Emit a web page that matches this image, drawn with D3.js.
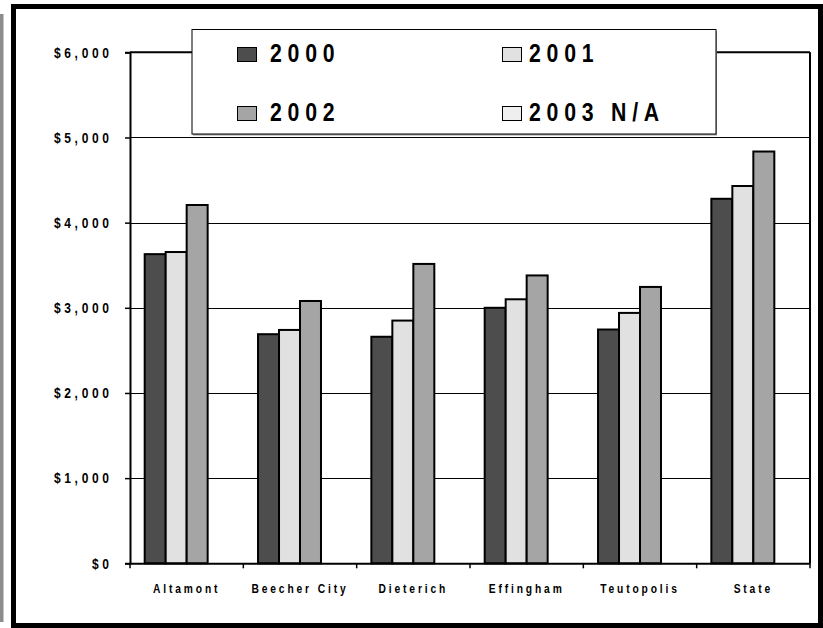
<!DOCTYPE html>
<html><head><meta charset="utf-8">
<script src="https://cdn.jsdelivr.net/npm/d3@7"></script>
<style>
html,body{margin:0;padding:0;background:#fff;}
svg{display:block;}
text{font-family:'Liberation Sans',Arial,sans-serif;font-weight:bold;fill:#000;}
</style></head>
<body>
<svg id="chart" width="823" height="628"></svg>
<script>
const categories = ["Altamont","Beecher City","Dieterich","Effingham","Teutopolis","State"];
const seriesNames = ["2000","2001","2002","2003 N/A"];
const v2000 = [3630, 2690, 2660, 3000, 2745, 4280];
const v2001 = [3655, 2740, 2850, 3100, 2940, 4430];
const v2002 = [4207, 3080, 3515, 3380, 3245, 4835];
const v2003 = [null, null, null, null, null, null];
const yTicks = [0, 1000, 2000, 3000, 4000, 5000, 6000];
const colors = ["#4d4d4d", "#e1e1e1", "#a5a5a5", "#efefef"];

const seriesVals = [v2000, v2001, v2002, v2003];
const svg = d3.select("#chart");

// left gray strip and outer frame
svg.append("rect").attr("x",0).attr("y",14).attr("width",3.5).attr("height",608).attr("fill","#8c8c8c");
svg.append("rect").attr("x",13.5).attr("y",6.5).attr("width",807).attr("height",619)
  .attr("fill","#fff").attr("stroke","#000").attr("stroke-width",5);

const L=130, R=810, T=52.3, B=563.3;
const x = d3.scaleBand().domain(categories).range([L,R]).padding(0);
const xs = d3.scaleBand().domain(seriesNames).range([0,x.bandwidth()]).paddingInner(0).paddingOuter(0.7);
const y = d3.scaleLinear().domain([0,6000]).range([B,T]);

// gridlines
svg.append("g").selectAll("line").data(yTicks.filter(d=>d>0 && d<6000)).join("line")
  .attr("x1",L).attr("x2",R).attr("y1",d=>Math.round(y(d))+0.5).attr("y2",d=>Math.round(y(d))+0.5)
  .attr("stroke","#000").attr("stroke-width",1);

// bars
const data = [];
categories.forEach((c,i)=>seriesNames.forEach((s,j)=>{ if(seriesVals[j][i]!=null) data.push({c,s,v:seriesVals[j][i],j}); }));
svg.append("g").selectAll("rect").data(data).join("rect")
  .attr("x",d=>x(d.c)+xs(d.s)).attr("width",xs.bandwidth())
  .attr("y",d=>y(d.v)).attr("height",d=>y(0)-y(d.v))
  .attr("fill",d=>colors[d.j]).attr("stroke","#000").attr("stroke-width",2);

// plot frame top/right
svg.append("line").attr("x1",L).attr("x2",R).attr("y1",T).attr("y2",T).attr("stroke","#000").attr("stroke-width",2);
svg.append("line").attr("x1",R).attr("x2",R).attr("y1",T).attr("y2",B).attr("stroke","#000").attr("stroke-width",2);

// y axis
const ySX = 0.8, ySp = 4.6;
const yAxis = d3.axisLeft(y).tickValues(yTicks).tickSize(5).tickPadding(15)
  .tickFormat(d=>"$"+d3.format(",")(d));
const gy = svg.append("g").attr("transform",`translate(${L},0)`).call(yAxis);
gy.select(".domain").attr("stroke","#000").attr("stroke-width",2);
gy.selectAll(".tick line").attr("stroke","#000").attr("stroke-width",1.5);
gy.selectAll("text").attr("font-size",15).attr("letter-spacing",ySp+"px")
  .attr("font-family","'Liberation Sans',Arial,sans-serif").attr("font-weight","bold")
  .attr("fill","#000").attr("transform",`scale(${ySX},1)`)
  .attr("x",(-21 + ySX*ySp)/ySX);

// x axis
const xSX = 0.82;
const xAxis = d3.axisBottom(x).tickSize(0).tickPadding(21);
const gx = svg.append("g").attr("transform",`translate(0,${B})`).call(xAxis);
gx.select(".domain").attr("stroke","#000").attr("stroke-width",2);
gx.selectAll("text").attr("font-size",12.5).attr("letter-spacing","3.5px")
  .attr("font-family","'Liberation Sans',Arial,sans-serif").attr("font-weight","bold").attr("fill","#000")
  .attr("transform",`scale(${xSX},1)`);
// category boundary ticks
const bounds = categories.map(c=>x(c)).concat([R]);
svg.append("g").selectAll("line").data(bounds).join("line")
  .attr("x1",d=>d).attr("x2",d=>d).attr("y1",B).attr("y2",B+5).attr("stroke","#000").attr("stroke-width",1.5);

// legend
const lg = svg.append("g");
lg.append("rect").attr("x",193).attr("y",31).attr("width",524).attr("height",104.5).attr("fill","#999");
lg.append("rect").attr("x",192).attr("y",29.5).attr("width",524).attr("height",104.5)
  .attr("fill","#fff").attr("stroke","#000").attr("stroke-width",1);
const swX = [237, 502], txX = [270, 529], baseY = [62, 121];
seriesNames.forEach((s,i)=>{
  const col = i%2, row = Math.floor(i/2);
  lg.append("rect").attr("x",swX[col]+0.5).attr("y",baseY[row]-15+0.5).attr("width",19).attr("height",14)
    .attr("fill",colors[i]).attr("stroke","#000").attr("stroke-width",1);
  lg.append("text").attr("transform",`translate(${txX[col]},${baseY[row]}) scale(0.85,1)`)
    .attr("font-size",25).attr("letter-spacing","6.8px").text(s);
});
</script>
</body></html>
